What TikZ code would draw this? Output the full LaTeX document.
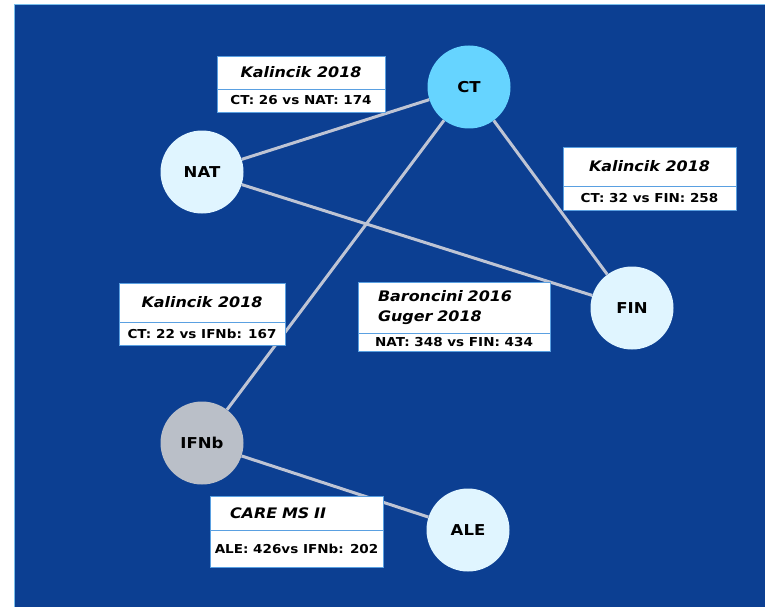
\documentclass[tikz,border=0pt]{standalone}
\usepackage{fontspec}
\setmainfont[FakeStretch=1.1]{DejaVu Sans}
\usetikzlibrary{positioning}
\definecolor{bgblue}{RGB}{12,63,146}
\definecolor{bgedge}{RGB}{120,190,235}
\definecolor{boxedge}{RGB}{90,160,225}
\definecolor{ctfill}{RGB}{102,212,255}
\definecolor{lightfill}{RGB}{224,245,255}
\definecolor{greyfill}{RGB}{186,191,200}
\definecolor{linkgrey}{RGB}{190,196,212}
\tikzset{
  trt/.style={circle, minimum size=83pt, inner sep=0pt, font=\fontsize{15}{17}\selectfont\bfseries},
  link/.style={linkgrey, line width=3pt},
  titlebox/.style={draw=boxedge, fill=white, line width=0.8pt, outer sep=0pt, inner sep=2pt,
    font=\fontsize{14.5}{17}\selectfont\bfseries\itshape},
  countbox/.style={draw=boxedge, fill=white, line width=0.8pt, outer sep=0pt, inner sep=1pt,
    font=\fontsize{12.3}{14}\selectfont\bfseries}
}
\begin{document}
\begin{tikzpicture}[x=1pt,y=-1pt]
\useasboundingbox (0,0) rectangle (765,607);
\fill[white] (0,0) rectangle (765,607);
\draw[fill=bgblue, draw=bgedge, line width=1.2pt] (14.5,4.5) rectangle (766,608);
% treatments
\node[trt, fill=ctfill] (ct) at (469,87) {CT};
\node[trt, fill=lightfill] (nat) at (202,172) {NAT};
\node[trt, fill=lightfill] (fin) at (632,308) {FIN};
\node[trt, fill=greyfill] (ifnb) at (202,443) {IFNb};
\node[trt, fill=lightfill] (ale) at (468,530) {ALE};
% comparisons
\draw[link] (nat) -- (ct);
\draw[link] (ct) -- (fin);
\draw[link] (nat) -- (fin);
\draw[link] (ct) -- (ifnb);
\draw[link] (ifnb) -- (ale);
% studies
\node[titlebox, minimum width=168, minimum height=33] (s1) at (301,72.5) {Kalincik 2018};
\node[countbox, minimum width=168, minimum height=23, below=0pt of s1] (c1) {CT: 26 vs NAT: 174};
\node[titlebox, minimum width=173, minimum height=39] (s2) at (649.5,166.5) {Kalincik 2018};
\node[countbox, minimum width=173, minimum height=24, below=0pt of s2] (c2) {CT: 32 vs FIN: 258};
\node[titlebox, minimum width=166, minimum height=39] (s3) at (202,302.5) {Kalincik 2018};
\node[countbox, minimum width=166, minimum height=23, below=0pt of s3] (c3) {CT: 22 vs IFNb: 167};
\node[titlebox, minimum width=192, minimum height=51, text width=152, align=left,
  font=\fontsize{14.5}{20}\selectfont\bfseries\itshape] (s4) at (454,307.5) {Baroncini 2016\\Guger 2018};
\node[countbox, minimum width=192, minimum height=18, below=0pt of s4] (c4) {NAT: 348 vs FIN: 434};
\node[titlebox, minimum width=173, minimum height=34, text width=133, align=left] (s5) at (296.5,513) {CARE MS II};
\node[countbox, minimum width=173, minimum height=37, below=0pt of s5] (c5) {ALE: 426vs IFNb: 202};
\end{tikzpicture}
\end{document}
